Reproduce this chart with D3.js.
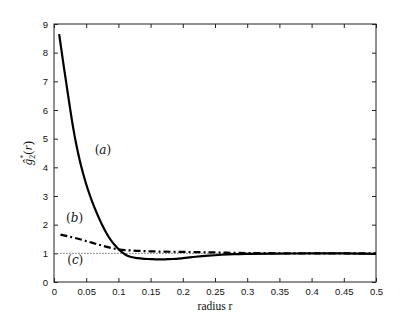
<!DOCTYPE html>
<html>
<head>
<meta charset="utf-8">
<script src="https://cdn.jsdelivr.net/npm/d3@7"></script>
<style>
  body { margin: 0; background: #fff; }
  svg { display: block; }
</style>
</head>
<body>
<div id="svgWrapper"></div>
<script>
// data
var radiusA = [0.008, 0.015, 0.02, 0.025, 0.03, 0.035, 0.04, 0.045, 0.05, 0.055, 0.06, 0.065, 0.07, 0.075, 0.08, 0.085, 0.09, 0.095, 0.1, 0.105, 0.11, 0.115, 0.12, 0.13, 0.14, 0.15, 0.16, 0.17, 0.18, 0.19, 0.2, 0.22, 0.24, 0.26, 0.28, 0.3, 0.35, 0.4, 0.45, 0.5];
var curveA = [8.65, 7.55, 6.8, 6.05, 5.35, 4.75, 4.24, 3.8, 3.41, 3.07, 2.76, 2.48, 2.22, 1.98, 1.76, 1.57, 1.41, 1.27, 1.15, 1.05, 0.97, 0.91, 0.87, 0.83, 0.81, 0.8, 0.79, 0.79, 0.8, 0.81, 0.83, 0.88, 0.92, 0.95, 0.97, 0.98, 0.99, 1.0, 1.0, 0.98];
var radiusB = [0.01, 0.03, 0.05, 0.07, 0.09, 0.1, 0.12, 0.15, 0.2, 0.25, 0.3, 0.4, 0.5];
var curveB = [1.65, 1.55, 1.43, 1.3, 1.18, 1.14, 1.1, 1.07, 1.05, 1.03, 1.01, 1.0, 1.0];
var radiusC = [0.01, 0.5];
var curveC = [1, 1];
var xTicks = [0, 0.05, 0.1, 0.15, 0.2, 0.25, 0.3, 0.35, 0.4, 0.45, 0.5];
var yTicks = [0, 1, 2, 3, 4, 5, 6, 7, 8, 9];

var fullWidth = 415, fullHeight = 317;
var xLeft = 54, xRight = 376, yTop = 24, yBottom = 282;

var svg = d3.select("#svgWrapper")
  .append("svg")
  .attr("width", fullWidth)
  .attr("height", fullHeight);

var xScale = d3.scaleLinear().domain([0, 0.5]).range([xLeft, xRight]);
var yScale = d3.scaleLinear().domain([0, 9]).range([yBottom, yTop]);

// frame
svg.append("rect")
  .attr("x", xLeft).attr("y", yTop)
  .attr("width", xRight - xLeft).attr("height", yBottom - yTop)
  .attr("fill", "white").attr("stroke", "#222").attr("stroke-width", 1);

// axes, ticks pointing inward (mirrored on top and right)
var fmt = function(d) { return d3.format("~g")(d); };
var axB = svg.append("g").attr("transform", "translate(0," + yBottom + ")")
  .call(d3.axisBottom(xScale).tickValues(xTicks).tickSizeInner(-4).tickSizeOuter(0).tickPadding(6).tickFormat(fmt));
var axT = svg.append("g").attr("transform", "translate(0," + yTop + ")")
  .call(d3.axisTop(xScale).tickValues(xTicks).tickSizeInner(-4).tickSizeOuter(0).tickFormat(""));
var axL = svg.append("g").attr("transform", "translate(" + xLeft + ",0)")
  .call(d3.axisLeft(yScale).tickValues(yTicks).tickSizeInner(-4).tickSizeOuter(0).tickPadding(6).tickFormat(fmt));
var axR = svg.append("g").attr("transform", "translate(" + xRight + ",0)")
  .call(d3.axisRight(yScale).tickValues(yTicks).tickSizeInner(-4).tickSizeOuter(0).tickFormat(""));

[axB, axT, axL, axR].forEach(function(a) {
  a.select(".domain").remove();
  a.selectAll("line").attr("stroke", "#222");
  a.selectAll("text")
    .style("font-family", "Liberation Sans, Arial, sans-serif")
    .style("font-size", "9.5px")
    .attr("fill", "#111");
});

var line = d3.line()
  .x(function(d) { return xScale(d[0]); })
  .y(function(d) { return yScale(d[1]); })
  .curve(d3.curveMonotoneX);

function pairs(xs, ys) { return xs.map(function(x, i) { return [x, ys[i]]; }); }

// (c) dotted
svg.append("path")
  .attr("d", line(pairs(radiusC, curveC)))
  .attr("fill", "none").attr("stroke", "#222").attr("stroke-width", 1)
  .attr("stroke-dasharray", "1,2");

// (b) dash-dot
svg.append("path")
  .attr("d", line(pairs(radiusB, curveB)))
  .attr("fill", "none").attr("stroke", "#000").attr("stroke-width", 2.2)
  .attr("stroke-dasharray", "7,3,2,3");

// (a) solid
svg.append("path")
  .attr("d", line(pairs(radiusA, curveA)))
  .attr("fill", "none").attr("stroke", "#000").attr("stroke-width", 2.2);

// curve labels
var labels = [["a", 0.076, 4.45], ["b", 0.032, 2.1], ["c", 0.033, 0.62]];
labels.forEach(function(l) {
  var t = svg.append("text")
    .attr("x", xScale(l[1])).attr("y", yScale(l[2]))
    .attr("text-anchor", "middle")
    .style("font-family", "DejaVu Serif, Liberation Serif, serif")
    .style("font-size", "12px")
    .attr("fill", "#111");
  t.append("tspan").text("(");
  t.append("tspan").style("font-style", "italic").text(l[0]);
  t.append("tspan").text(")");
});

// x label
svg.append("text")
  .attr("x", (xLeft + xRight) / 2).attr("y", 310)
  .attr("text-anchor", "middle")
  .style("font-family", "Liberation Serif, serif")
  .style("font-size", "11.5px")
  .attr("fill", "#111")
  .text("radius r");

// y label
var yl = svg.append("text")
  .attr("transform", "translate(32," + ((yTop + yBottom) / 2) + ") rotate(-90)")
  .attr("text-anchor", "middle")
  .style("font-family", "Liberation Serif, serif")
  .style("font-size", "13px")
  .attr("fill", "#111");
yl.append("tspan").style("font-style", "italic").text("\u011D");
yl.append("tspan").attr("dy", 3).style("font-size", "8px").text("2");
yl.append("tspan").attr("dy", -9).attr("dx", -4).style("font-size", "8px").text("*");
yl.append("tspan").attr("dy", 6).text("(");
yl.append("tspan").style("font-style", "italic").text("r");
yl.append("tspan").text(")");
</script>
</body>
</html>
